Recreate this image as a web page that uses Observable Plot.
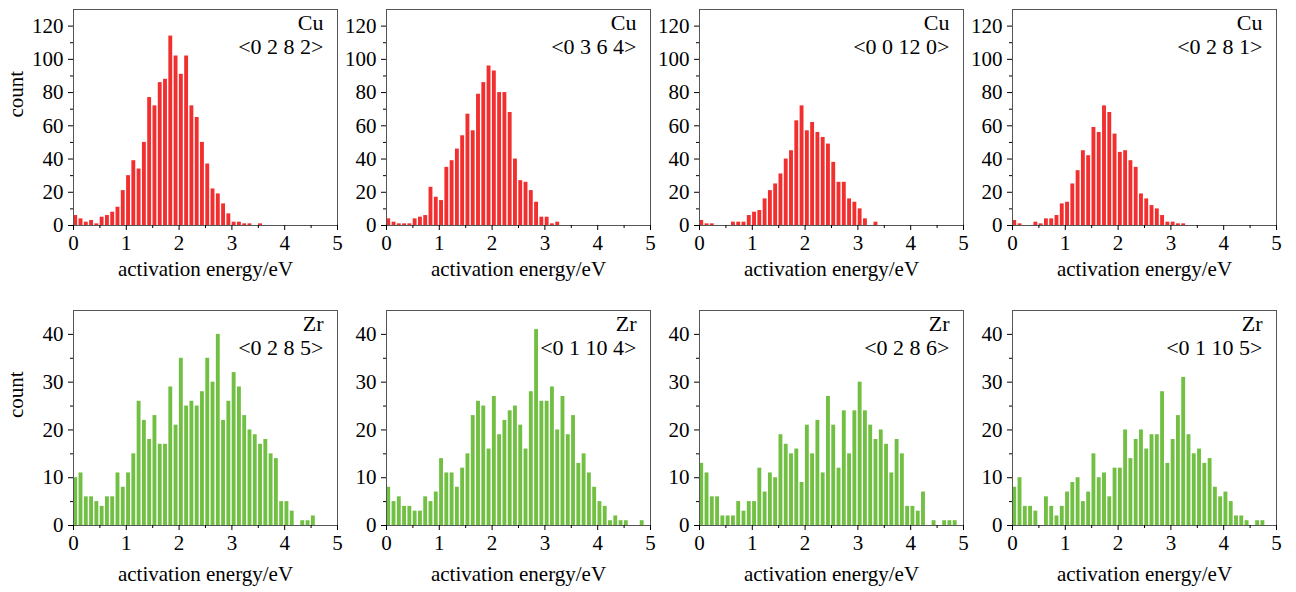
<!DOCTYPE html>
<html><head><meta charset="utf-8">
<script src="https://cdn.jsdelivr.net/npm/d3@7"></script>
<script src="https://cdn.jsdelivr.net/npm/@observablehq/plot@0.6"></script>
<style>
body{margin:0;background:#fff;}
#chart{width:1296px;height:592px;background:#fff;}
#chart svg{display:block;}
#chart svg text{font-family:"Liberation Serif","Times New Roman",serif;}
</style></head><body><div id="chart"></div>
<script>
// Bin width of the histograms (eV)
const binWidth = 0.1;
const xTicks = [0, 1, 2, 3, 4, 5];
const xMinorTicks = [0.5, 1.5, 2.5, 3.5, 4.5];
const cuTicks = [0, 20, 40, 60, 80, 100, 120];
const cuMinorTicks = [10, 30, 50, 70, 90, 110];
const zrTicks = [0, 10, 20, 30, 40];
const zrMinorTicks = [5, 15, 25, 35];

const xLabel = "activation energy/eV";
const yLabel = "count";
const cuElement = "Cu";
const zrElement = "Zr";
const cuLabels = ["<0 2 8 2>", "<0 3 6 4>", "<0 0 12 0>", "<0 2 8 1>"];
const zrLabels = ["<0 2 8 5>", "<0 1 10 4>", "<0 2 8 6>", "<0 1 10 5>"];

// counts per 0.1 eV bin, starting at 0 eV
const cu0282 = [6,4,2,3,1,5,6,8,11,21,30,39,34,50,77,72,86,88,114,102,91,102,72,65,50,37,22,19,13,7,2,2,1,1,0,1];
const cu0364 = [4,2,1,1,1,4,5,6,23,17,15,35,39,46,54,67,57,79,86,96,93,80,80,68,40,27,26,21,14,5,5,1,2];
const cu00120 = [3,1,1,0,0,0,2,2,2,6,8,9,16,21,25,31,40,45,63,72,57,62,56,53,49,38,26,26,16,14,10,4,0,2];
const cu0281 = [3,1,0,0,2,1,4,4,6,13,14,25,33,45,42,59,56,72,68,55,44,45,39,35,19,16,12,10,6,2,2,1,1];

const zr0285 = [10,11,6,6,5,4,6,6,11,8,11,15,26,22,18,23,17,17,29,21,35,25,26,25,28,35,30,40,22,26,32,29,23,20,19,17,18,15,14,5,5,3,0,1,1,2];
const zr01104 = [8,5,6,4,4,3,3,6,5,7,14,11,11,8,12,15,23,26,25,16,27,19,22,24,25,21,16,28,41,26,26,29,20,27,19,23,13,15,11,8,5,4,1,2,1,1,0,0,1];
const zr0286 = [13,11,6,6,2,2,2,5,3,5,5,12,7,11,10,19,17,15,16,9,21,15,22,11,27,21,12,24,15,24,30,24,21,18,20,17,11,18,15,4,4,3,7,0,1,0,1,1,1];
const zr01105 = [8,10,4,4,3,0,6,4,2,4,7,9,10,5,7,15,10,11,6,12,12,20,14,18,20,16,19,19,28,13,18,23,31,19,15,16,13,14,8,6,7,5,2,2,1,0,1,1];

const cuSeries = [cu0282, cu0364, cu00120, cu0281];
const zrSeries = [zr0285, zr01104, zr0286, zr01105];

const red = "#f22f2f";
const green = "#71c043";
const serif = "'Liberation Serif', 'Times New Roman', serif";

const rows = [
  {series: cuSeries, labels: cuLabels, element: cuElement, color: red, ymax: 130, ticks: cuTicks, minor: cuMinorTicks, marginTop: 9, marginBottom: 71, labelDy: 44},
  {series: zrSeries, labels: zrLabels, element: zrElement, color: green, ymax: 45, ticks: zrTicks, minor: zrMinorTicks, marginTop: 14, marginBottom: 67, labelDy: 49}
];

const chart = document.getElementById("chart");

rows.forEach((row) => {
  const panels = row.labels;
  const bars = row.series.flatMap((counts, c) =>
    counts.map((v, i) => ({panel: panels[c], x1: i * binWidth, x2: (i + 1) * binWidth, count: v})).filter(d => d.count > 0));
  const notes = panels.map(p => ({panel: p, text: row.element + "\n" + p}));
  const svg = Plot.plot({
    width: 1296,
    height: 296,
    marginLeft: 72.5, marginRight: 19.3, marginTop: row.marginTop, marginBottom: row.marginBottom,
    style: {fontFamily: serif, fontSize: "21px", background: "transparent", color: "#000"},
    fx: {domain: panels, axis: null, paddingInner: 0.1577, paddingOuter: 0},
    x: {domain: [0, 5]},
    y: {domain: [0, row.ymax]},
    marks: [
      Plot.rectY(bars, {fx: "panel", x1: "x1", x2: "x2", y: "count", fill: row.color, insetLeft: 0.3, insetRight: 1.1}),
      Plot.frame({stroke: "#555", strokeWidth: 1}),
      Plot.axisX({ticks: xTicks, tickSize: 5, tickPadding: 5, tickFormat: d3.format("d"), fontSize: 21, fontFamily: serif, fontVariant: "normal", label: null, facetAnchor: null}),
      Plot.axisX({ticks: xMinorTicks, tickSize: 3, fill: "none", label: null, facetAnchor: null}),
      Plot.axisY({ticks: row.ticks, tickSize: 5, tickPadding: 5, tickFormat: d3.format("d"), fontSize: 21, fontFamily: serif, fontVariant: "normal", label: null, facetAnchor: null}),
      Plot.axisY({ticks: row.minor, tickSize: 3, fill: "none", label: null, facetAnchor: null}),
      Plot.text(panels, {fx: d => d, text: () => xLabel, frameAnchor: "bottom", lineAnchor: "middle", dy: row.labelDy, fontSize: 21, fontFamily: serif}),
      Plot.text([yLabel], {fx: () => panels[0], text: d => d, frameAnchor: "left", rotate: -90, dx: -57, fontSize: 21, fontFamily: serif}),
      Plot.text(notes, {fx: "panel", text: "text", frameAnchor: "top-right", textAnchor: "end", dx: -14, dy: 3, lineHeight: 1.1, fontSize: 22, fontFamily: serif})
    ]
  });
  chart.appendChild(svg);
});
</script>
</body></html>
